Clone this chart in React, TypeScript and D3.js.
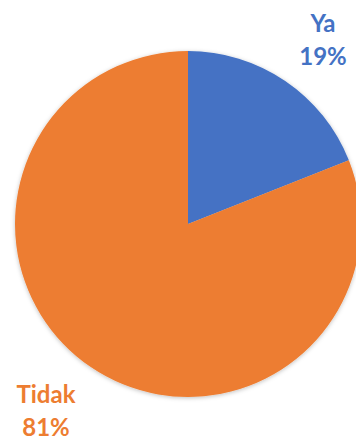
import React from "react";
import * as d3 from "d3";

const categories = ["Ya", "Tidak"];
const values = [19, 81];
const percentLabels = ["19%", "81%"];
const colors = ["#4472C4", "#ED7D31"];

export default function App() {
  const W = 356, H = 439;
  const cx = 188, cy = 224, r = 173;
  const pie = d3.pie<number>().sort(null).value((d) => d);
  const arcs = pie(values);
  const arcGen = d3.arc<d3.PieArcDatum<number>>().innerRadius(0).outerRadius(r);
  const labelPos = [
    { x: 323, y: 32 },
    { x: 46, y: 403 },
  ];
  return (
    <svg width={W} height={H} style={{ position: "absolute", left: 0, top: 0 }}>
      <defs>
        <filter id="sh" x="-10%" y="-10%" width="120%" height="120%">
          <feDropShadow dx="0" dy="1" stdDeviation="2" floodColor="#000" floodOpacity="0.25" />
        </filter>
      </defs>
      <g transform={`translate(${cx},${cy})`} filter="url(#sh)">
        {arcs.map((a, i) => (
          <path key={i} d={arcGen(a) || ""} fill={colors[i]} />
        ))}
      </g>
      {categories.map((c, i) => (
        <text
          key={c}
          x={labelPos[i].x}
          y={labelPos[i].y}
          textAnchor="middle"
          fontFamily="Lato, sans-serif"
          fontWeight="bold"
          fontSize={24}
          fill={colors[i]}
        >
          <tspan x={labelPos[i].x}>{c}</tspan>
          <tspan x={labelPos[i].x} dy={33}>{percentLabels[i]}</tspan>
        </text>
      ))}
    </svg>
  );
}
